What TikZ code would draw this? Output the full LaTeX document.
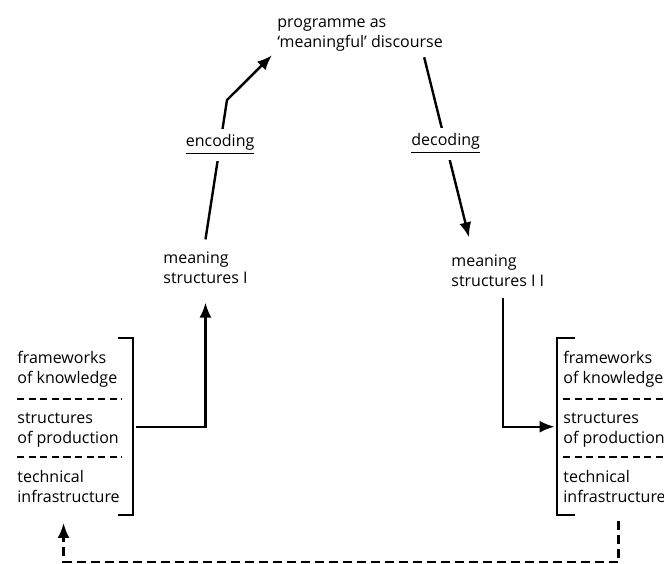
\documentclass[tikz,border=0pt]{standalone}
\usepackage{fontspec}
\setmainfont{Open Sans}
\usetikzlibrary{arrows.meta, positioning, fit}
\tikzset{
  txt/.style={
    align=left,
    anchor=base west,
    inner sep=0pt,
    font=\fontsize{8}{9.75}\selectfont
  },
  tag/.style={
    fill=white,
    inner sep=3pt,
    font=\fontsize{8}{9.75}\selectfont
  },
  column/.style={
    inner xsep=0pt,
    inner ysep=6pt
  },
  bracket/.style={line width=1pt},
  divider/.style={line width=0.7pt, dash pattern=on 3.6pt off 2.2pt},
  arrow/.style={-{Latex[length=7.5pt, width=6pt]}, line width=1.2pt},
  dashedarrow/.style={-{Latex[length=7.5pt, width=6pt]}, line width=1.2pt, dash pattern=on 4.5pt off 2.5pt}
}
\begin{document}
\begin{tikzpicture}[x=0.5pt, y=-0.5pt]
  \path[use as bounding box, clip] (0,0) rectangle (664,563);

  \node[txt] (prog) at (277,47) {programme as\\‘meaningful’ discourse};
  \node[txt] (ms1) at (163,283) {meaning\\structures I};
  \node[txt] (ms2) at (451,286) {meaning\\structures I I};

  \node[txt] (fkL) at (17,383) {frameworks\\of knowledge};
  \node[txt] (spL) at (17,443) {structures\\of production};
  \node[txt] (tiL) at (17,502) {technical\\infrastructure};
  \node[column, fit=(fkL)(spL)(tiL)] (colL) {};

  \node[txt] (fkR) at (563,383) {frameworks\\of knowledge};
  \node[txt] (spR) at (563,443) {structures\\of production};
  \node[txt] (tiR) at (563,502) {technical\\infrastructure};
  \node[column, fit=(fkR)(spR)(tiR)] (colR) {};

  \draw[divider] (17,399) -- (122,399);
  \draw[divider] (17,457) -- (122,457);
  \draw[divider] (563,399) -- (664,399);
  \draw[divider] (563,457) -- (664,457);

  \draw[bracket] ([xshift=-1.5pt]colL.north east) -- ([xshift=6pt]colL.north east)
    -- ([xshift=6pt]colL.south east) -- ([xshift=-1.5pt]colL.south east);
  \draw[bracket] ([xshift=6pt]colR.north west) -- ([xshift=-3pt]colR.north west)
    -- ([xshift=-3pt]colR.south west) -- ([xshift=6pt]colR.south west);

  \coordinate (encbend) at (227,100);
  \draw[arrow] ([yshift=6pt]ms1.north) -- node[tag, pos=0.68] (enc) {\underline{encoding}} (encbend)
    -- ([shift={(-5,4)}]prog.south west);
  \draw[arrow] ([shift={(-19,6)}]prog.south east) -- node[tag, pos=0.48] (dec) {\underline{decoding}}
    ([shift={(18,-17)}]ms2.north west);

  \draw[arrow, shorten >=9.5pt] ([xshift=7.5pt]colL.east) -| (ms1.south);
  \draw[arrow, shorten <=5.5pt] ([xshift=2.5pt]ms2.south) |- ([xshift=-4pt]colR.west);

  \draw[dashedarrow, shorten <=3pt, shorten >=4pt] ([xshift=2pt]colR.south) -- ++(0,47)
    -| ([xshift=-2.5pt]colL.south);
\end{tikzpicture}
\end{document}
